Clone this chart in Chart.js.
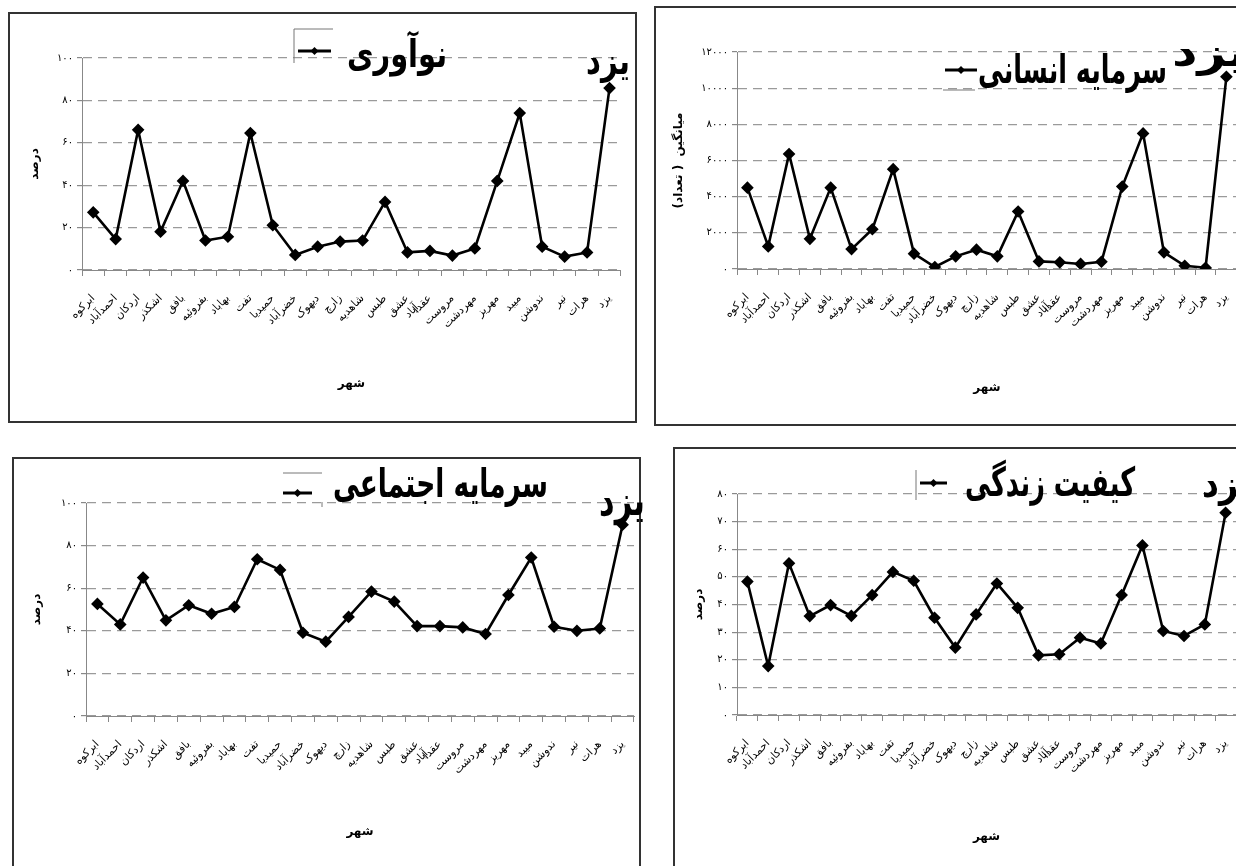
<!DOCTYPE html>
<html>
<head>
<meta charset="utf-8">
<script src="https://cdn.jsdelivr.net/npm/chart.js@4/dist/chart.umd.min.js"></script>
<style>
html, body { margin: 0; padding: 0; background: #fff; width: 1236px; height: 866px; overflow: hidden; }
.frame { position: absolute; box-sizing: border-box; border: 2px solid #333; }
canvas { position: absolute; }
</style>
</head>
<body>
<div class="frame" style="left:8px;top:12px;width:629px;height:411px"></div>
<div class="frame" style="left:654px;top:6px;width:600px;height:420px"></div>
<div class="frame" style="left:12px;top:457px;width:629px;height:430px"></div>
<div class="frame" style="left:673px;top:447px;width:600px;height:440px"></div>
<canvas id="c1" dir="rtl" width="625" height="407" style="left:10px;top:14px"></canvas>
<canvas id="c2" dir="rtl" width="596" height="416" style="left:656px;top:8px"></canvas>
<canvas id="c3" dir="rtl" width="640" height="416" style="left:14px;top:459px"></canvas>
<canvas id="c4" dir="rtl" width="600" height="426" style="left:675px;top:449px"></canvas>
<script>
// data
const cities = ['ابرکوه', 'احمدآباد', 'اردکان', 'اشکذر', 'بافق', 'بفروئیه', 'بهاباد', 'تفت',
    'حمیدیا', 'خضرآباد', 'دیهوک', 'زارچ', 'شاهدیه', 'طبس', ['عشق', 'آباد'], 'عقدا',
    'مروست', 'مهردشت', 'مهریز', 'میبد', 'ندوشن', 'نیر', 'هرات', 'یزد'];

const innovation = [27.2, 14.6, 66.1, 18.1, 42, 13.9, 15.7, 64.6, 21.1, 7.1, 11, 13.4,
    13.9, 32.1, 8.3, 9, 6.8, 10.2, 42, 74, 11, 6.3, 8.3, 85.8];
const humanCapital = [4500, 1250, 6360, 1670, 4500, 1100, 2200, 5520, 850, 110, 700, 1070,
    700, 3180, 420, 370, 280, 400, 4560, 7500, 920, 180, 70, 10630];
const socialCapital = [52.6, 43, 65, 44.9, 52, 48, 51.2, 73.6, 68.6, 39.1, 34.9, 46.5,
    58.4, 53.7, 42.2, 42.2, 41.6, 38.5, 56.8, 74.4, 41.9, 40, 41.1, 89.8];
const lifeQuality = [48.3, 17.7, 54.9, 35.8, 39.8, 35.9, 43.4, 51.8, 48.6, 35.2, 24.4, 36.4,
    47.6, 38.8, 21.6, 22, 28, 25.9, 43.4, 61.4, 30.4, 28.6, 32.8, 73.2];

const percentTicks = [0, 20, 40, 60, 80, 100];
const countTicks = [0, 2000, 4000, 6000, 8000, 10000, 12000];
const lifeTicks = [0, 10, 20, 30, 40, 50, 60, 70, 80];

const seriesNames = ['نوآوری', 'سرمایه انسانی', 'سرمایه اجتماعی', 'کیفیت زندگی'];
const cityName = 'یزد';
const xTitle = 'شهر';
const percentTitle = 'درصد';
const countTitle = 'میانگین  ( تعداد)';

const FONT = '"DejaVu Sans", sans-serif';

// persian digits for tick labels
function toFa(n) {
    return String(n).replace(/\d/g, d => '۰۱۲۳۴۵۶۷۸۹'[d]);
}

// draws text right-aligned at x, squeezed sideways to the wanted width
function squeezeText(ctx, text, x, y, size, width) {
    ctx.font = 'bold ' + size + 'px ' + FONT;
    const w = ctx.measureText(text).width;
    ctx.save();
    ctx.translate(x, y);
    ctx.scale(width / w, 1);
    ctx.fillText(text, 0, 0);
    ctx.restore();
}

// title, legend sample and the big city name drawn over the plot
const decor = {
    id: 'decor',
    afterDraw(chart, args, o) {
        const ctx = chart.ctx;
        ctx.save();
        ctx.strokeStyle = '#777';
        ctx.lineWidth = 1;
        o.lines.forEach(l => {
            ctx.beginPath();
            ctx.moveTo(l[0], l[1]);
            ctx.lineTo(l[2], l[3]);
            ctx.stroke();
        });
        const m = o.marker;
        ctx.strokeStyle = '#000';
        ctx.lineWidth = 3;
        ctx.beginPath();
        ctx.moveTo(m[0], m[2]);
        ctx.lineTo(m[1], m[2]);
        ctx.stroke();
        const cx = (m[0] + m[1]) / 2;
        ctx.fillStyle = '#000';
        ctx.beginPath();
        ctx.moveTo(cx, m[2] - 4);
        ctx.lineTo(cx + 4, m[2]);
        ctx.lineTo(cx, m[2] + 4);
        ctx.lineTo(cx - 4, m[2]);
        ctx.closePath();
        ctx.fill();
        ctx.textAlign = 'right';
        ctx.textBaseline = 'alphabetic';
        const n = o.name;
        squeezeText(ctx, n[0], n[1], n[2], n[3], n[4]);
        const c = o.city;
        squeezeText(ctx, cityName, c[0], c[1], c[2], c[3]);
        ctx.restore();
    }
};

function makeChart(id, values, ticks, yTitle, lay) {
    const step = ticks[1] - ticks[0];
    return new Chart(document.getElementById(id), {
        type: 'line',
        data: {
            labels: cities,
            datasets: [{
                data: values,
                borderColor: '#000',
                backgroundColor: '#000',
                borderWidth: 2.6,
                pointStyle: 'rectRot',
                pointRadius: 4.5,
                pointBackgroundColor: '#000',
                pointBorderColor: '#000',
                tension: 0
            }]
        },
        options: {
            responsive: false,
            animation: false,
            layout: { padding: { top: lay.top, right: lay.right, left: 0, bottom: 0 } },
            plugins: {
                legend: { display: false },
                tooltip: { enabled: false },
                decor: lay.decor
            },
            scales: {
                x: {
                    offset: true,
                    grid: { display: true, drawOnChartArea: false, drawTicks: true, tickLength: 6, offset: true, color: '#888' },
                    border: { display: true, color: '#888', width: 1 },
                    ticks: {
                        autoSkip: false, maxRotation: 45, minRotation: 45, padding: lay.xPad,
                        color: '#000', font: { family: FONT, size: 11 }
                    },
                    title: {
                        display: true, text: xTitle, color: '#000',
                        font: { family: FONT, size: 12, weight: 'bold' },
                        padding: { top: 0, bottom: lay.xtPad }
                    },
                    afterFit: s => { s.height = lay.xh; }
                },
                y: {
                    min: ticks[0],
                    max: ticks[ticks.length - 1],
                    grid: { color: '#9a9a9a', lineWidth: 1.2, drawTicks: true, tickLength: 5, tickColor: '#888' },
                    border: { display: true, color: '#888', width: 1, dash: [9, 6] },
                    ticks: {
                        stepSize: step, padding: 4, color: '#000',
                        font: { family: FONT, size: 10 },
                        callback: v => ticks.includes(v) ? toFa(v) : ''
                    },
                    title: {
                        display: true, text: yTitle, color: '#000',
                        font: { family: FONT, size: 12, weight: 'bold' },
                        padding: { top: lay.ytPad, bottom: 0 }
                    },
                    afterFit: s => { s.width = lay.yw; }
                }
            }
        },
        plugins: [decor]
    });
}

// name: [text, right x, baseline y, font size, width]; city: [right x, baseline y, font size, width]
makeChart('c1', innovation, percentTicks, percentTitle, {
    top: 44, right: 5, yw: 72, xh: 151, xPad: 16, xtPad: 30, ytPad: 18,
    decor: { lines: [[284, 15, 284, 49], [284, 15, 323, 15]], marker: [288, 321, 37],
        name: [seriesNames[0], 437, 53, 38, 100], city: [620, 60, 38, 44] }
});

makeChart('c2', humanCapital, countTicks, countTitle, {
    top: 44, right: 13, yw: 81, xh: 155, xPad: 16, xtPad: 29, ytPad: 16,
    decor: { lines: [[287, 82, 319, 82]], marker: [289, 321, 62],
        name: [seriesNames[1], 511, 75, 40, 189], city: [591, 58, 40, 75] }
});

makeChart('c3', socialCapital, percentTicks, percentTitle, {
    top: 44, right: 20, yw: 72, xh: 159, xPad: 16, xtPad: 36, ytPad: 16,
    decor: { lines: [[269, 14, 308, 14], [308, 43, 308, 48]], marker: [269, 298, 34],
        name: [seriesNames[2], 534, 38, 40, 215], city: [631, 56, 42, 46] }
});

makeChart('c4', lifeQuality, lifeTicks, percentTitle, {
    top: 45, right: 39, yw: 62, xh: 160, xPad: 16, xtPad: 31, ytPad: 17,
    decor: { lines: [[241, 21, 241, 51]], marker: [245, 272, 34],
        name: [seriesNames[3], 460, 47, 40, 170], city: [577, 48, 38, 50] }
});
</script>
</body>
</html>
